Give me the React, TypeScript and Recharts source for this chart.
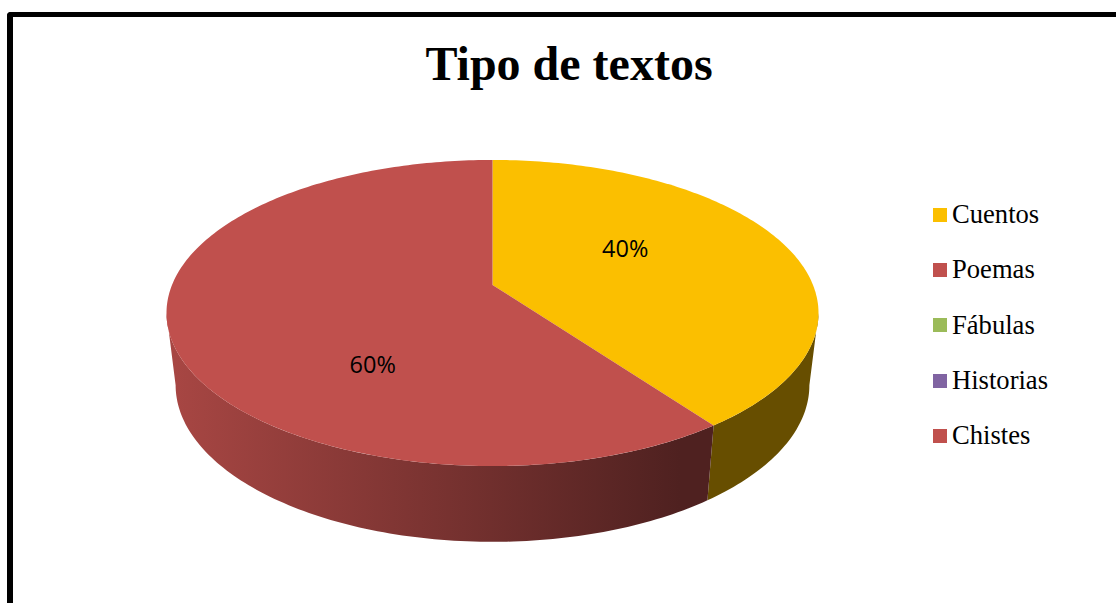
import { PieChart, Pie, Cell, Legend } from "recharts";

const categories = ["Cuentos", "Poemas", "Fábulas", "Historias", "Chistes"];
const percents = [40, 60, 0, 0, 0];
const colors = ["#fbbf00", "#c0504d", "#9bbb59", "#8064a2", "#c0504d"];

const data = categories.map((name, i) => ({ name, value: percents[i] }));

const RAD = Math.PI / 180;
// perspective of the tilted disc, top and bottom plane
const persp = 0.183;
const top = { scale: 1, dy: 0, tilt: 0.4615 };
const bottom = { scale: 0.972, dy: 71.5, tilt: 0.4725 };
const frontLimit = Math.asin(persp) / RAD;
const frontFrom = -180 + frontLimit;
const frontTo = -frontLimit;

const project = (cx: number, cy: number, r: number, deg: number, plane = top, k = 1) => {
     const u = Math.cos(deg * RAD) * k;
     const v = Math.sin(deg * RAD) * k;
     const w = 1 + persp * v;
     return [cx + (r * plane.scale * u) / w, cy + plane.dy - (r * plane.tilt * v) / w];
};

const arc = (cx: number, cy: number, r: number, from: number, to: number, plane = top) => {
     const n = Math.max(1, Math.ceil(Math.abs(to - from)));
     const pts = [];
     for (let i = 0; i <= n; i++) {
          pts.push(project(cx, cy, r, from + ((to - from) * i) / n, plane));
     }
     return pts;
};

const toPath = (pts: number[][]) =>
     "M" + pts.map((p) => p[0].toFixed(2) + "," + p[1].toFixed(2)).join("L") + "Z";

const shade = (hex: string, f: number) => {
     const n = parseInt(hex.slice(1), 16);
     const c = [n >> 16, (n >> 8) & 255, n & 255].map((x) => Math.round(x * f));
     return `rgb(${c[0]},${c[1]},${c[2]})`;
};

const Slice3D = (props: any) => {
     const { cx, cy, outerRadius, startAngle, endAngle, fill, index } = props;
     if (startAngle === endAngle) return null;
     const wallFrom = Math.min(startAngle, frontTo);
     const wallTo = Math.max(endAngle, frontFrom);
     const id = "wall" + index;
     const hasWall = wallFrom > wallTo;
     return (
          <g>
               {hasWall && (
                    <>
                         <defs>
                              <linearGradient id={id} gradientUnits="userSpaceOnUse" x1={175} x2={680} y1={0} y2={0}>
                                   <stop offset="0" stopColor={shade(fill, 0.87)} />
                                   <stop offset="1" stopColor={shade(fill, 0.41)} />
                              </linearGradient>
                         </defs>
                         <path
                              d={toPath([
                                   ...arc(cx, cy, outerRadius, wallFrom, wallTo),
                                   ...arc(cx, cy, outerRadius, wallTo, wallFrom, bottom),
                              ])}
                              fill={`url(#${id})`}
                         />
                    </>
               )}
               <path d={toPath([[cx, cy], ...arc(cx, cy, outerRadius, startAngle, endAngle)])} fill={fill} />
          </g>
     );
};

// Excel leaves the data labels off the mid radius, so nudge them
const labelNudge = [
     [-1, -17],
     [21, 58],
];

const renderLabel = (props: any) => {
     const { cx, cy, outerRadius, midAngle, percent, index } = props;
     if (!percent) return null;
     const [x, y] = project(cx, cy, outerRadius, midAngle, top, 0.45);
     return (
          <text
               x={x + labelNudge[index][0]}
               y={y + labelNudge[index][1]}
               textAnchor="middle"
               dominantBaseline="central"
               fontFamily="'Open Sans', sans-serif"
               fontSize={23.5}
               fill="#000"
          >
               {Math.round(percent * 100)}%
          </text>
     );
};

const renderLegend = (props: any) => (
     <div>
          {(props.payload || []).map((entry: any, i: number) => (
               <div key={entry.value} style={{ display: "flex", alignItems: "center", height: 55.3 }}>
                    <span style={{ width: 14, height: 14, marginRight: 5, background: colors[i] }} />
                    <span style={{ fontFamily: "'Liberation Serif', serif", fontSize: 26.6, color: "#000" }}>{entry.value}</span>
               </div>
          ))}
     </div>
);

export default function App() {
     return (
          <div style={{ position: "absolute", left: 0, top: 0, width: 1116, height: 603, overflow: "hidden", background: "#fff" }}>
               <div
                    style={{
                         position: "absolute",
                         left: 7,
                         top: 12,
                         width: 1300,
                         height: 800,
                         borderLeft: "6px solid #000",
                         borderTop: "5px solid #000",
                         borderTopLeftRadius: 4,
                    }}
               />
               <div
                    style={{
                         position: "absolute",
                         left: 0,
                         top: 46,
                         width: 1138,
                         textAlign: "center",
                         fontFamily: "'Liberation Serif', serif",
                         fontWeight: "bold",
                         fontSize: 48,
                         lineHeight: "36px",
                    }}
               >
                    Tipo de textos
               </div>
               <PieChart
                    width={1116}
                    height={603}
                    margin={{ top: 0, right: 0, bottom: 0, left: 0 }}
                    style={{ position: "absolute", left: 0, top: 0 }}
               >
                    <Pie
                         data={data}
                         dataKey="value"
                         nameKey="name"
                         cx={492.5}
                         cy={285}
                         outerRadius={320.5}
                         startAngle={90}
                         endAngle={-270}
                         stroke="none"
                         shape={Slice3D}
                         label={renderLabel}
                         labelLine={false}
                         isAnimationActive={false}
                    >
                         {categories.map((name, i) => (
                              <Cell key={name} fill={colors[i]} />
                         ))}
                    </Pie>
                    <Legend
                         layout="vertical"
                         itemSorter={null}
                         content={renderLegend}
                         wrapperStyle={{ left: 933, top: 187, width: 170, bottom: "auto", right: "auto" }}
                    />
               </PieChart>
          </div>
     );
}
